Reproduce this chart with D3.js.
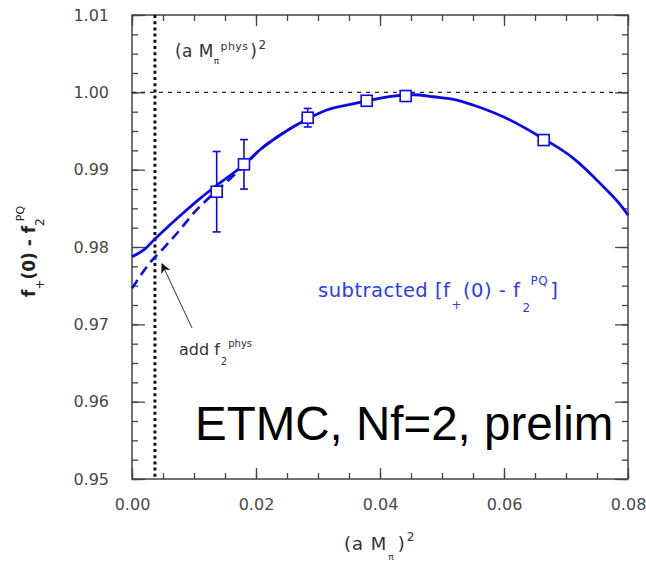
<!DOCTYPE html>
<html>
<head>
<meta charset="utf-8">
<script src="https://cdn.jsdelivr.net/npm/d3@7"></script>
<style>
  body { margin: 0; background: #fff; }
  svg { display: block; }
</style>
</head>
<body>
<div class="main"></div>
<script>
const width = 646;
const height = 563;
const margin = ({top: 15, right: 18, bottom: 84, left: 132});

// lattice points (a M_pi)^2 , f+(0) - f2^PQ , error
const pointX = [0.01366, 0.01806, 0.02834, 0.03785, 0.04414, 0.0664];
const pointY = [0.98715, 0.99069, 0.99672, 0.99891, 0.99952, 0.99383];
const pointErr = [0.0052, 0.0032, 0.0012, 0.0001, 0.0001, 0.0003];

// fit curve (solid)
const fitX = [0, 0.0021, 0.0037, 0.0061, 0.0088, 0.0110, 0.0137, 0.0180, 0.0206, 0.0239, 0.0282,
  0.0314, 0.0346, 0.0379, 0.0421, 0.0454, 0.0486, 0.0524, 0.0550, 0.0604, 0.0658, 0.0712, 0.0755, 0.0798, 0.08];
const fitY = [0.97874, 0.97975, 0.98105, 0.98284, 0.98478, 0.98629, 0.98801, 0.99060, 0.99254, 0.99448, 0.99651,
  0.99771, 0.99836, 0.99891, 0.99952, 0.99969, 0.99943, 0.99900, 0.99836, 0.99664, 0.99426, 0.99147, 0.98823, 0.98435, 0.98410];

// curve after adding f2^phys (dashed)
const addX = [0, 0.0029, 0.0053, 0.0077, 0.0099, 0.0126, 0.0155, 0.0181, 0.0206, 0.0239, 0.0282];
const addY = [0.97465, 0.97797, 0.98003, 0.98219, 0.98435, 0.98650, 0.98860, 0.99050, 0.99254, 0.99448, 0.99651];

const physX = 0.0037;   // (a M_pi^phys)^2
const refY = 1.00;

const xMajor = [0, 0.02, 0.04, 0.06, 0.08];
const xLabels = ['0.00', '0.02', '0.04', '0.06', '0.08'];
const yMajor = [0.95, 0.96, 0.97, 0.98, 0.99, 1.00, 1.01];
const yLabels = ['0.95', '0.96', '0.97', '0.98', '0.99', '1.00', '1.01'];

const blue = '#0a0ae8';
const axisCol = '#444';

const svg = d3.select('.main')
  .append('svg')
  .attr('width', width)
  .attr('height', height)
  .attr('style', 'font-family: "DejaVu Sans", sans-serif');

const x = d3.scaleLinear()
  .domain([0, 0.08])
  .range([margin.left, width - margin.right]);

const y = d3.scaleLinear()
  .domain([0.95, 1.01])
  .range([height - margin.bottom, margin.top]);

const xMinor = d3.range(0, 0.0801, 0.005);
const yMinor = d3.range(0.95, 1.0101, 0.0025);

// axes: minor ticks, then major ticks, ticks point inward
function styleAxis(g) {
  g.selectAll('.domain').remove();
  g.selectAll('line').attr('stroke', axisCol).attr('stroke-width', 1.3);
  g.selectAll('text').attr('fill', '#484848').style('font-size', '16px')
    .style('font-family', '"DejaVu Sans", sans-serif');
}

svg.append('g')
  .attr('transform', `translate(0, ${y(0.95)})`)
  .call(d3.axisBottom(x).tickValues(xMinor).tickSize(-6).tickFormat(''))
  .call(styleAxis);
svg.append('g')
  .attr('transform', `translate(0, ${y(0.95)})`)
  .call(d3.axisBottom(x).tickValues(xMajor).tickSize(-11).tickPadding(20)
    .tickFormat((d, i) => xLabels[i]))
  .call(styleAxis);
svg.append('g')
  .attr('transform', `translate(0, ${y(1.01)})`)
  .call(d3.axisTop(x).tickValues(xMinor).tickSize(-6).tickFormat(''))
  .call(styleAxis);
svg.append('g')
  .attr('transform', `translate(0, ${y(1.01)})`)
  .call(d3.axisTop(x).tickValues(xMajor).tickSize(-11).tickFormat(''))
  .call(styleAxis);

svg.append('g')
  .attr('transform', `translate(${x(0)}, 0)`)
  .call(d3.axisLeft(y).tickValues(yMinor).tickSize(-6).tickFormat(''))
  .call(styleAxis);
svg.append('g')
  .attr('transform', `translate(${x(0)}, 0)`)
  .call(d3.axisLeft(y).tickValues(yMajor).tickSize(-13).tickPadding(23)
    .tickFormat((d, i) => yLabels[i]))
  .call(styleAxis);
svg.append('g')
  .attr('transform', `translate(${x(0.08)}, 0)`)
  .call(d3.axisRight(y).tickValues(yMinor).tickSize(-6).tickFormat(''))
  .call(styleAxis);
svg.append('g')
  .attr('transform', `translate(${x(0.08)}, 0)`)
  .call(d3.axisRight(y).tickValues(yMajor).tickSize(-13).tickFormat(''))
  .call(styleAxis);

// frame
svg.append('rect')
  .attr('x', x(0))
  .attr('y', y(1.01))
  .attr('width', x(0.08) - x(0))
  .attr('height', y(0.95) - y(1.01))
  .attr('fill', 'none')
  .attr('stroke', axisCol)
  .attr('stroke-width', 1.5);

// reference lines
svg.append('line')
  .attr('x1', x(0)).attr('x2', x(0.08))
  .attr('y1', y(refY)).attr('y2', y(refY))
  .attr('stroke', '#222')
  .attr('stroke-width', 1.3)
  .attr('stroke-dasharray', '4,5');

svg.append('line')
  .attr('x1', x(physX)).attr('x2', x(physX))
  .attr('y1', y(1.01)).attr('y2', y(0.95))
  .attr('stroke', '#111')
  .attr('stroke-width', 3)
  .attr('stroke-dasharray', '3,3.2');

// curves
const line = d3.line()
  .x(d => x(d[0]))
  .y(d => y(d[1]))
  .curve(d3.curveMonotoneX);

svg.append('path')
  .datum(d3.zip(addX, addY))
  .attr('d', line)
  .attr('fill', 'none')
  .attr('stroke', blue)
  .attr('stroke-width', 2.6)
  .attr('stroke-dasharray', '10,6');

svg.append('path')
  .datum(d3.zip(fitX, fitY))
  .attr('d', line)
  .attr('fill', 'none')
  .attr('stroke', blue)
  .attr('stroke-width', 2.8);

// error bars
const pts = d3.zip(pointX, pointY, pointErr);
const eb = svg.append('g')
  .attr('stroke', blue)
  .attr('stroke-width', 1.6);

eb.selectAll('line.v')
  .data(pts)
  .enter()
  .append('line')
  .attr('x1', d => x(d[0])).attr('x2', d => x(d[0]))
  .attr('y1', d => y(d[1] - d[2])).attr('y2', d => y(d[1] + d[2]));

eb.selectAll('line.top')
  .data(pts)
  .enter()
  .append('line')
  .attr('x1', d => x(d[0]) - 4).attr('x2', d => x(d[0]) + 4)
  .attr('y1', d => y(d[1] + d[2])).attr('y2', d => y(d[1] + d[2]));

eb.selectAll('line.bot')
  .data(pts)
  .enter()
  .append('line')
  .attr('x1', d => x(d[0]) - 4).attr('x2', d => x(d[0]) + 4)
  .attr('y1', d => y(d[1] - d[2])).attr('y2', d => y(d[1] - d[2]));

svg.append('g')
  .selectAll('rect')
  .data(pts)
  .enter()
  .append('rect')
  .attr('x', d => x(d[0]) - 5.5)
  .attr('y', d => y(d[1]) - 5.5)
  .attr('width', 11)
  .attr('height', 11)
  .attr('fill', 'white')
  .attr('stroke', blue)
  .attr('stroke-width', 1.6);

// arrow "add f2 phys"
svg.append('defs').append('marker')
  .attr('id', 'head')
  .attr('viewBox', '0 0 10 10')
  .attr('refX', 9).attr('refY', 5)
  .attr('markerWidth', 10).attr('markerHeight', 10)
  .attr('orient', 'auto')
  .append('path')
  .attr('d', 'M0,0 L10,5 L0,10 L3,5 Z')
  .attr('fill', '#111');

svg.append('line')
  .attr('x1', 192).attr('y1', 328)
  .attr('x2', 162).attr('y2', 264)
  .attr('stroke', '#333')
  .attr('stroke-width', 1)
  .attr('marker-end', 'url(#head)');

// labels, built as flowing tspans: [text, dy, font-size, dx]
function richText(x0, y0, size, color, parts) {
  const t = svg.append('text')
    .attr('x', x0)
    .attr('y', y0)
    .attr('fill', color)
    .style('font-size', size + 'px');
  parts.forEach(p => {
    const s = t.append('tspan').text(p[0]);
    if (p[1]) s.attr('dy', p[1]);
    if (p[2]) s.style('font-size', p[2] + 'px');
    if (p[3]) s.attr('dx', p[3]);
  });
  return t;
}

richText(175, 57, 17, '#333', [
  ['(a M'], ['π', 7, 9, 0], ['phys', -14, 11, 1], [')', 7, null, 2], ['2', -8, 12, 1], ['', 8]
]).style('letter-spacing', '0.4px');

richText(179, 355, 16, '#333', [
  ['add f'], ['2', 10, 10, 1], ['phys', -18, 10, 1], ['', 8]
]);

richText(318, 297, 19.5, '#2a3cf0', [
  ['subtracted [f'], ['+', 12, 12, 1], ['(0) - f', -12, null, 1], ['2', 15, 12, 2],
  ['PQ', -27, 12, 0], [']', 12, null, 2]
]).style('letter-spacing', '0.5px');

svg.append('text')
  .attr('x', 195)
  .attr('y', 440)
  .style('font-family', '"Liberation Sans", Arial, sans-serif')
  .style('font-size', '47.5px')
  .attr('fill', '#000')
  .text('ETMC, Nf=2, prelim');

// axis titles
richText(344, 550, 18, '#333', [
  ['(a M'], ['π', 10, 9, 1], [')', -10, null, 3], ['2', -9, 12, 1], ['', 9]
]).style('letter-spacing', '1px');

const yt = svg.append('text')
  .attr('transform', 'translate(35, 297) rotate(-90)')
  .attr('fill', '#222')
  .style('font-size', '17px')
  .style('font-weight', 'bold');
yt.append('tspan').text('f');
yt.append('tspan').attr('dy', 9).style('font-size', '12px').style('font-weight', 'normal').text('+');
yt.append('tspan').attr('dy', -9).text('(0) - f');
yt.append('tspan').attr('dy', 9).style('font-size', '12px').style('font-weight', 'normal').text('2');
yt.append('tspan').attr('dy', -20).attr('dx', -3).style('font-size', '11px').style('font-weight', 'normal').text('PQ');
</script>
</body>
</html>
